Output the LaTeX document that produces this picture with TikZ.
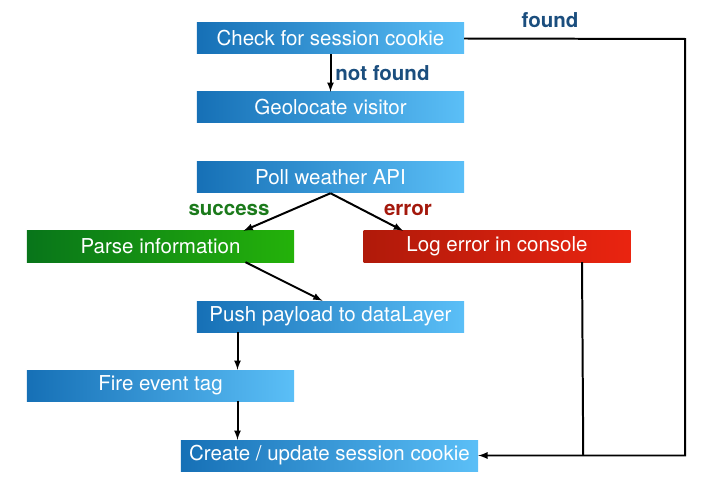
\documentclass[tikz,border=0pt]{standalone}
\usepackage{fontspec}
\setmainfont{TeX Gyre Heros}
\usetikzlibrary{calc}
\definecolor{blueL}{HTML}{1670B6}
\definecolor{blueR}{HTML}{5BBFF7}
\definecolor{greenL}{HTML}{08751A}
\definecolor{greenR}{HTML}{24B20A}
\definecolor{redL}{HTML}{B01A0A}
\definecolor{redR}{HTML}{EA2410}
\definecolor{lblblue}{HTML}{1B4E7E}
\definecolor{lblgreen}{HTML}{1B7A1B}
\definecolor{lblred}{HTML}{A3180C}
\tikzset{
  task/.style={inner sep=0pt,minimum width=8.01cm,minimum height=0.93cm,text=white,
    left color=blueL,right color=blueR,font=\fontsize{17.5}{19}\selectfont},
  okbox/.style={task,left color=greenL,right color=greenR},
  errbox/.style={task,left color=redL,right color=redR},
  lbl/.style={font=\fontsize{17.5}{19}\selectfont\bfseries},
  flow/.style={->,>=latex,line width=1.7pt}
}
\begin{document}
\begin{tikzpicture}[x=0.03cm,y=-0.03cm]
\useasboundingbox (0,0) rectangle (709,486);
\node[task] at (330.5,38.5) (check) {Check for session cookie};
\node[task] at (330.5,107.5) (geo) {Geolocate visitor};
\node[task] at (330.5,177.5) (poll) {Poll weather API};
\node[okbox] at (160.5,246.5) (parse) {Parse information};
\node[errbox] at (497,246.5) (log) {Log error in console};
\node[task] at (330.5,316.5) (push) {Push payload to dataLayer};
\node[task] at (160.5,385.5) (fire) {Fire event tag};
\node[task,minimum width=8.91cm] at (329.5,455.5) (cookie) {Create / update session cookie};
\coordinate (corner) at (685,39);
\draw[flow] (check) -- (geo) node[midway,right,lbl,text=lblblue] {not found};
\draw[flow] (check.east) -- (corner) |- (cookie.east);
\node[lbl,text=lblblue] at (550,20) (found) {found};
\draw[flow] (poll.south) -- ($(parse.north)+(83,0)$);
\node[lbl,text=lblgreen] at (229,210) (success) {success};
\draw[flow] (poll.south) -- ($(log.north)+(-94,0)$);
\node[lbl,text=lblred] at (408,210) (error) {error};
\draw[flow] ($(parse.south)+(85,0)$) -- ($(push.north)+(-8,0)$);
\draw[flow] ($(push.south)+(-93,0)$) -- ($(fire.north)+(77,0)$);
\draw[flow] ($(fire.south)+(77,0)$) -- ($(cookie.north)+(-92,0)$);
\draw[line width=1.7pt] ($(log.south)+(85,0)$) -- ($(cookie.east)+(105,0)$);
\end{tikzpicture}
\end{document}
